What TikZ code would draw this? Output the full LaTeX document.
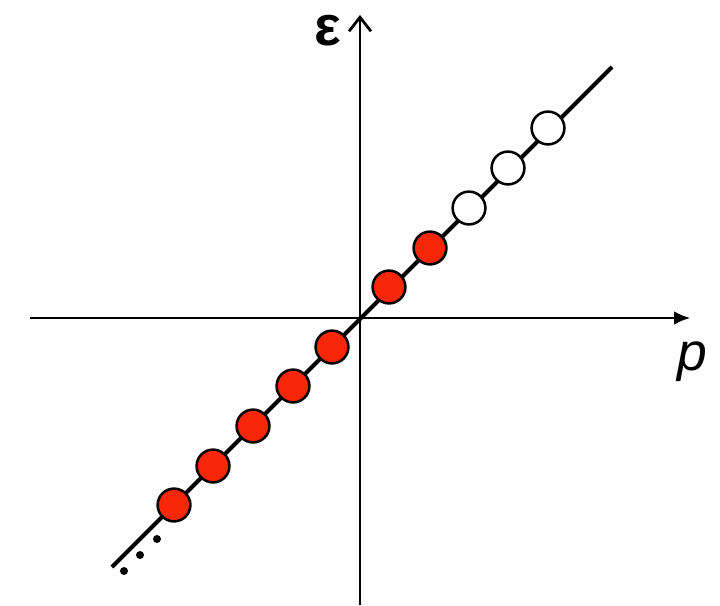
\documentclass[tikz,border=0pt]{standalone}
\usepackage{fontspec}
\setmainfont{Liberation Sans}
\usepackage{tikz}
\usetikzlibrary{arrows.meta}
\definecolor{dotred}{RGB}{250,38,8}

\begin{document}
\begin{tikzpicture}[
x=0.025cm, y=-0.025cm,
axis/.style={line width=1.3pt, black},
level/.style={circle, draw=black, line width=1.8pt, minimum size=0.82cm, inner sep=0pt},
filled/.style={level, fill=dotred},
empty/.style={level, fill=white},
lbl/.style={font=\fontsize{38}{40}\selectfont}
]
\useasboundingbox (0,0) rectangle (720,605);
% axes
\coordinate (xl) at (30,318);
\coordinate (xr) at (690,318);
\coordinate (yb) at (360,605);
\coordinate (yt) at (360,15);
\draw[axis, -{Latex[length=4mm, width=3.4mm]}] (xl) -- (xr);
\draw[axis, -{Straight Barb[length=3.5mm, width=5.5mm, line width=2pt]}] (yb) -- (yt);
\node[lbl, font=\fontsize{40}{42}\selectfont\bfseries] (eps) at (328,31) {ε};
\node[lbl, font=\fontsize{38}{40}\selectfont\itshape] (p) at (692,362) {p};
% dispersion line
\coordinate (lo) at (112,567);
\coordinate (hi) at (612,67);
\draw[line width=2.8pt] (lo) -- (hi);
% occupied and free levels
\foreach \x/\y [count=\i] in {174/505, 213/466, 253/426, 293/386, 332/347, 389/287, 430/248}
  \node[filled] (r\i) at (\x,\y) {};
\foreach \x/\y [count=\i] in {469/208, 508/168, 548/128}
  \node[empty] (w\i) at (\x,\y) {};
% dots
\foreach \x/\y in {124/571, 140/555, 157/539}
  \fill (\x,\y) circle (4);
\end{tikzpicture}
\end{document}
